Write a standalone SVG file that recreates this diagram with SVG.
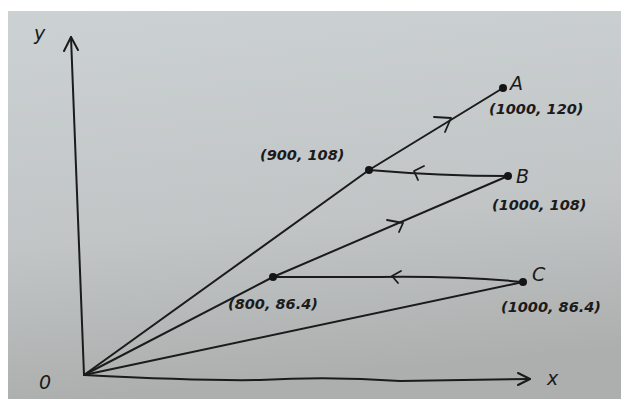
<svg xmlns="http://www.w3.org/2000/svg" width="630" height="403" viewBox="0 0 630 403">
  <defs>
    <linearGradient id="paper" x1="0" y1="0" x2="0.15" y2="1">
      <stop offset="0" stop-color="#ccd1d3"/>
      <stop offset="0.6" stop-color="#c1c5c6"/>
      <stop offset="1" stop-color="#adafae"/>
    </linearGradient>
    <style>
      .ln { fill: none; stroke: #1b1b1b; stroke-width: 2; stroke-linecap: round; stroke-linejoin: round; }
      .chev { fill: none; stroke: #1b1b1b; stroke-width: 1.8; stroke-linecap: round; stroke-linejoin: round; }
      .dot { fill: #151515; }
      .lbl { font-family: "DejaVu Sans", "Liberation Sans", sans-serif; font-style: italic; font-weight: 600; font-size: 14.5px; fill: #1b1b1b; }
      .big { font-family: "DejaVu Sans", "Liberation Sans", sans-serif; font-style: italic; font-size: 19px; fill: #1b1b1b; }
    </style>
  </defs>
  <rect x="0" y="0" width="630" height="403" fill="#ffffff"/>
  <rect x="8" y="11" width="613" height="388" fill="url(#paper)"/>

  <g id="axes">
    <path class="ln" d="M84,375 L71,37"/>
    <path class="ln" d="M64,51 L71,37 L78,50"/>
    <path class="ln" d="M84,375 Q200,381 260,380 Q330,376 400,381 Q470,380 530,379"/>
    <path class="ln" d="M518,373 L530,379 L518,385"/>
  </g>

  <g id="connectors">
    <path class="ln" d="M84,375 L369,170 L503,88"/>
    <path class="ln" d="M84,375 L273,277 L508,176"/>
    <path class="ln" d="M84,375 L523,282"/>
    <path class="ln" d="M508,176 Q440,176 369,170"/>
    <path class="ln" d="M523,282 Q460,276 380,277 L273,277"/>
    <path class="chev" d="M434,117 L451,118 L445,132"/>
    <path class="chev" d="M387,220 L403,223 L399,232"/>
    <path class="chev" d="M424,166 L414,171 L418,180"/>
    <path class="chev" d="M401,271 L392,276 L398,283"/>
  </g>

  <g id="node-origin">
    <text class="big" x="39" y="389">0</text>
  </g>
  <g id="node-y-label">
    <text class="big" x="34" y="40">y</text>
  </g>
  <g id="node-x-label">
    <text class="big" x="547" y="385">x</text>
  </g>
  <g id="node-A">
    <circle class="dot" cx="503" cy="88" r="4"/>
    <text class="big" x="510" y="90">A</text>
    <text class="lbl" x="489" y="114">(1000, 120)</text>
  </g>
  <g id="node-B">
    <circle class="dot" cx="508" cy="176" r="4"/>
    <text class="big" x="516" y="183">B</text>
    <text class="lbl" x="492" y="210">(1000, 108)</text>
  </g>
  <g id="node-C">
    <circle class="dot" cx="523" cy="282" r="4"/>
    <text class="big" x="532" y="281">C</text>
    <text class="lbl" x="501" y="312">(1000, 86.4)</text>
  </g>
  <g id="node-900">
    <circle class="dot" cx="369" cy="170" r="4"/>
    <text class="lbl" x="260" y="160">(900, 108)</text>
  </g>
  <g id="node-800">
    <circle class="dot" cx="273" cy="277" r="4"/>
    <text class="lbl" x="228" y="309">(800, 86.4)</text>
  </g>
</svg>
